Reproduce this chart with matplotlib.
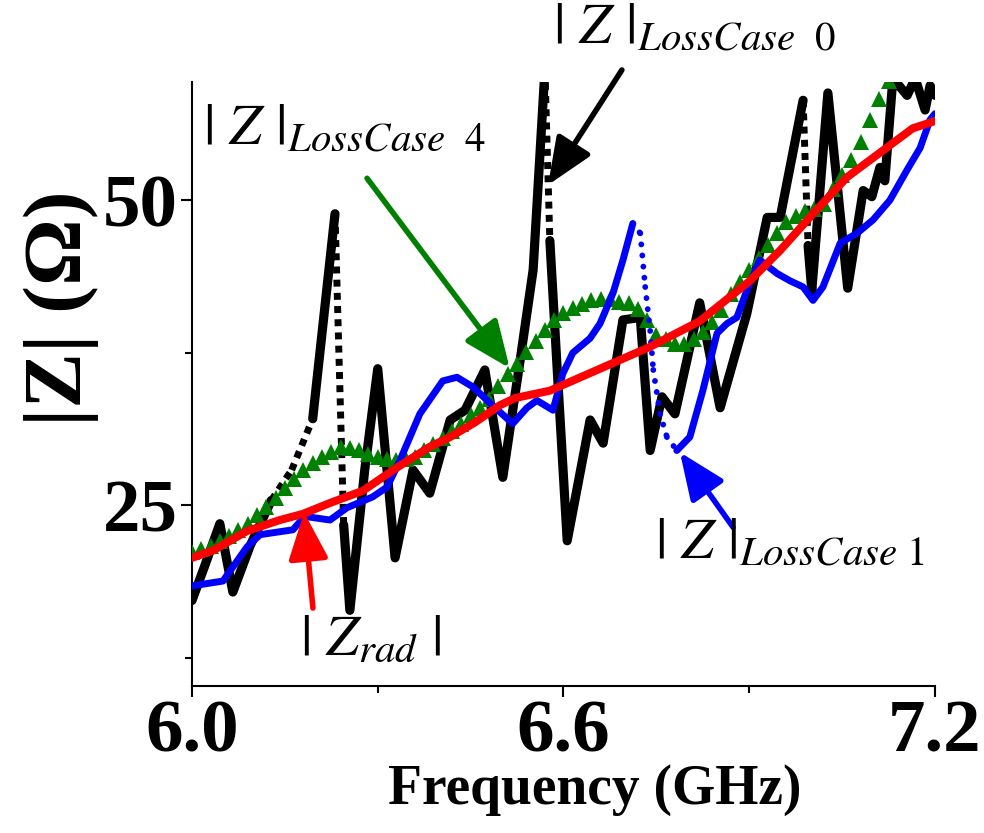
import matplotlib
matplotlib.use("Agg")
import matplotlib.pyplot as plt
from matplotlib.ticker import MultipleLocator

# ---- values (frequency in GHz, |Z| in Ohm) ----
rad_f = [6.000, 6.034, 6.089, 6.142, 6.179, 6.223, 6.276, 6.331, 6.384, 6.417, 6.457, 6.497,
         6.522, 6.578, 6.659, 6.740, 6.820, 6.901, 6.950, 7.003, 7.058, 7.111, 7.164, 7.200]
rad_z = [20.7, 21.3, 22.9, 23.8, 24.3, 25.2, 26.2, 28.1, 29.8, 30.6, 31.8, 33.2,
         33.8, 34.4, 36.2, 38.0, 40.1, 43.4, 45.9, 48.9, 51.9, 53.9, 55.9, 56.5]

case0_f = [6.000, 6.021, 6.045, 6.066, 6.094, 6.128, 6.161, 6.195, 6.231, 6.245, 6.255, 6.279,
           6.300, 6.315, 6.328, 6.357, 6.384, 6.417, 6.441, 6.473, 6.502, 6.530, 6.551, 6.570,
           6.578, 6.589, 6.606, 6.643, 6.664, 6.696, 6.724, 6.740, 6.759, 6.780, 6.820, 6.853,
           6.896, 6.929, 6.950, 6.987, 6.995, 7.001, 7.027, 7.059, 7.084, 7.098, 7.111, 7.119,
           7.132, 7.155, 7.168, 7.184, 7.192, 7.200]
case0_z = [17.2, 20.1, 23.5, 17.9, 21.7, 25.4, 27.9, 32.1, 48.9, 23.4, 16.4, 27.9,
           36.2, 27.9, 20.7, 27.9, 26.0, 32.0, 32.8, 36.1, 27.3, 36.9, 44.3, 60.7,
           46.7, 36.9, 22.1, 32.0, 30.1, 40.2, 40.4, 29.5, 33.9, 32.5, 41.6, 33.0,
           40.7, 48.6, 48.6, 58.2, 46.3, 42.6, 58.8, 42.8, 50.8, 50.3, 52.7, 51.6,
           60.0, 58.6, 60.0, 57.4, 59.4, 58.6]
case0_jumps = [5, 6, 8, 23, 39]  # segments that show up as sparse samples

case1_f = [6.000, 6.050, 6.089, 6.110, 6.163, 6.182, 6.223, 6.250, 6.292, 6.315, 6.336, 6.368,
           6.405, 6.428, 6.454, 6.481, 6.518, 6.541, 6.557, 6.583, 6.599, 6.615, 6.643, 6.659,
           6.680, 6.696, 6.712, 6.724, 6.732, 6.740, 6.745, 6.756, 6.767, 6.783, 6.804, 6.825,
           6.848, 6.864, 6.880, 6.896, 6.917, 6.945, 6.966, 6.987, 7.003, 7.019, 7.047, 7.074,
           7.100, 7.127, 7.155, 7.176, 7.192, 7.200]
case1_z = [18.4, 18.8, 21.6, 22.6, 23.0, 24.1, 23.8, 24.8, 25.7, 26.5, 28.7, 32.5,
           35.2, 35.5, 34.7, 33.4, 31.7, 33.0, 33.6, 32.8, 35.8, 37.5, 38.7, 39.9,
           42.4, 45.1, 48.1, 47.3, 42.9, 39.3, 36.1, 32.5, 30.6, 29.5, 30.6, 34.4,
           39.1, 39.9, 40.4, 42.6, 45.1, 44.0, 43.4, 42.9, 41.8, 42.9, 46.5, 47.3,
           48.4, 50.0, 52.5, 54.3, 56.6, 57.1]
case1_jumps = [26, 27, 28, 29, 30, 31, 32]

case4_f = [6.000, 6.015, 6.030, 6.045, 6.060, 6.075, 6.090, 6.105, 6.120, 6.135, 6.150, 6.165,
           6.180, 6.195, 6.210, 6.225, 6.240, 6.255, 6.270, 6.285, 6.300, 6.315, 6.330, 6.345,
           6.360, 6.375, 6.390, 6.405, 6.420, 6.435, 6.450, 6.465, 6.480, 6.495, 6.510, 6.525,
           6.540, 6.555, 6.570, 6.585, 6.600, 6.615, 6.630, 6.645, 6.660, 6.675, 6.690, 6.705,
           6.720, 6.735, 6.750, 6.765, 6.780, 6.795, 6.810, 6.825, 6.840, 6.855, 6.870, 6.885,
           6.900, 6.915, 6.930, 6.945, 6.960, 6.975, 6.990, 7.005, 7.020, 7.035, 7.050, 7.065,
           7.080, 7.095, 7.110, 7.125, 7.140]
case4_z = [21.2, 21.4, 21.7, 22.1, 22.5, 23.0, 23.5, 24.2, 24.9, 25.6, 26.4, 27.2,
           27.9, 28.5, 29.0, 29.4, 29.8, 29.7, 29.5, 29.2, 29.0, 28.8, 28.7, 28.8,
           29.0, 29.5, 30.0, 30.5, 31.1, 31.7, 32.4, 33.0, 33.7, 34.8, 35.8, 36.6,
           37.6, 38.5, 39.4, 40.2, 40.8, 41.2, 41.5, 41.8, 41.9, 41.9, 41.7, 41.6,
           41.1, 40.2, 39.0, 38.6, 38.2, 38.2, 38.6, 39.2, 40.0, 41.0, 42.3, 43.3,
           44.3, 45.3, 46.3, 47.3, 48.2, 48.7, 49.1, 49.3, 49.7, 50.9, 52.1, 53.3,
           54.8, 56.6, 58.3, 59.8, 61.5]

xticks = [6.0, 6.6, 7.2]
xticklabels = ["6.0", "6.6", "7.2"]
yticks = [25, 50]


def draw_with_jumps(ax, f, z, jumps, color, lw, dot_lw, dot_style, capstyle, zorder):
    # solid runs, with the sparsely sampled jumps drawn as dots
    start = 0
    for i in range(len(f) - 1):
        if i in jumps:
            if i > start:
                ax.plot(f[start:i + 1], z[start:i + 1], color=color, lw=lw,
                        solid_joinstyle="round", solid_capstyle="round", zorder=zorder)
            ax.plot(f[i:i + 2], z[i:i + 2], color=color, lw=dot_lw, linestyle=dot_style,
                    dash_capstyle=capstyle, zorder=zorder)
            start = i + 1
    ax.plot(f[start:], z[start:], color=color, lw=lw, solid_joinstyle="round",
            solid_capstyle="round", zorder=zorder)


plt.rcParams["font.family"] = ["Liberation Serif", "DejaVu Serif"]
plt.rcParams["mathtext.fontset"] = "stix"

fig = plt.figure(figsize=(9.84, 8.33), dpi=100)
ax = fig.add_axes([0.1951, 0.1765, 0.7551, 0.7251])

draw_with_jumps(ax, case0_f, case0_z, case0_jumps, "black", 6.6, 5.0, (0, (1, 0.9)), "butt", 2)
ax.plot(case4_f, case4_z, color="#008000", lw=0, marker="^", markersize=11,
        markeredgewidth=0, zorder=3)
draw_with_jumps(ax, case1_f, case1_z, case1_jumps, "#0000FF", 5.0, 4.2, (0, (0.01, 1.9)),
                "round", 4)
ax.plot(rad_f, rad_z, color="#FF0000", lw=5.8, solid_capstyle="round", zorder=5)

ax.set_xlim(6.0, 7.2)
ax.set_ylim(10.2, 59.7)
ax.set_xticks(xticks)
ax.set_xticklabels(xticklabels)
ax.set_yticks(yticks)
ax.xaxis.set_minor_locator(MultipleLocator(0.3))
ax.yaxis.set_minor_locator(MultipleLocator(12.5))
ax.tick_params(which="major", length=8, width=1.5, direction="out", labelsize=54, pad=2)
ax.tick_params(which="minor", length=5, width=1.5, direction="out")
for lab in ax.get_xticklabels() + ax.get_yticklabels():
    lab.set_fontweight("bold")
for side in ["top", "right"]:
    ax.spines[side].set_visible(False)
for side in ["left", "bottom"]:
    ax.spines[side].set_linewidth(1.5)

ax.set_xlabel("Frequency (GHz)", fontsize=40, fontweight="bold")
ax.xaxis.set_label_coords(0.542, -0.13)
ax.set_ylabel("|Z| (\u03a9)", fontsize=60, fontweight="bold")
ax.yaxis.set_label_coords(-0.125, 0.625)

# labels for each curve
fig.text(0.562, 0.996, r"$|\ Z\ |_{LossCase\ \ 0}$", fontsize=42, ha="left", va="top")
fig.text(0.206, 0.874, r"$|\ Z\ |_{LossCase\ \ 4}$", fontsize=42, ha="left", va="top")
fig.text(0.666, 0.378, r"$|\ Z\ |_{LossCase\ 1}$", fontsize=42, ha="left", va="top")
fig.text(0.305, 0.262, r"$|\ Z_{rad}\ |$", fontsize=42, ha="left", va="top")

arrows = [((0.632, 0.916), (0.557, 0.778), "black"),
          ((0.373, 0.786), (0.518, 0.558), "#008000"),
          ((0.745, 0.367), (0.691, 0.457), "#0000FF"),
          ((0.318, 0.270), (0.309, 0.385), "#FF0000")]
for tail, tip, col in arrows:
    ax.annotate("", xy=tip, xytext=tail, xycoords="figure fraction",
                textcoords="figure fraction", annotation_clip=False,
                arrowprops=dict(arrowstyle="-|>,head_length=1.3,head_width=0.55",
                                mutation_scale=22, lw=4, color=col,
                                shrinkA=0, shrinkB=0), zorder=6)

fig.savefig("out.png", dpi=100)
